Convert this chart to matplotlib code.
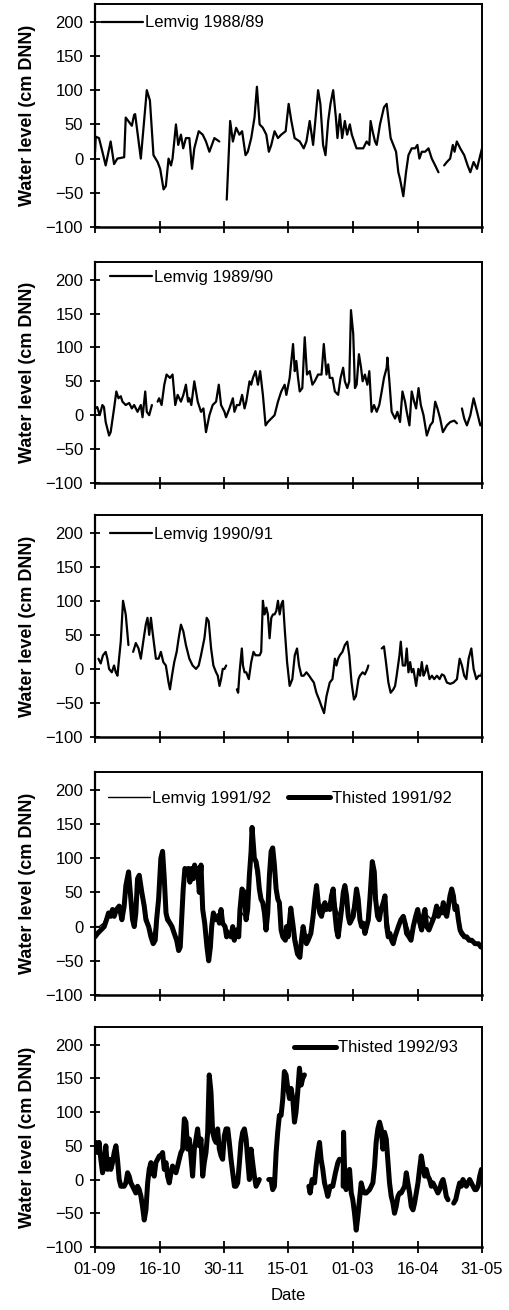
import numpy as np
import matplotlib
matplotlib.use("Agg")
import matplotlib.pyplot as plt

plt.rcParams['font.family'] = ['Liberation Sans', 'DejaVu Sans']

# ---------------- data (day since 01-09, water level cm DNN; None = gap) -------------
tick_labels = ["01-09", "16-10", "30-11", "15-01", "01-03", "16-04", "31-05"]
season_days = 272

lemvig_8889_day = [0, 0.5, 2.8, 5.2, 7.5, 11, 13.4, 15.7, 20.5, 21.6, 25.9, 27.5, 28.2, 32.2, 36.4, 38.6, 41.1, 44,
                   45.8, 48.2, 49.8, 51.7, 53.4, 54.5, 56.9, 58.5, 60.4, 62, 63.9, 66.3, 68.2, 69.8, 72.9, 75.7, 78,
                   80.4, 83.9, 87.4, None,
                   92.6, 95, 96.9, 99.2, 101.5, 103.4, 105.8, 107.4, 109.8, 112.1, 113.8, 115.7, 118, 120.4, 122.2,
                   123.9, 126.2, 128.6, 130.9, 134, 136.1, 138, 140.3, 143.9, 146.7, 148.6, 150.9, 153.3, 156.8,
                   158.4, 160.3, 162, 163.9, 165.5, 167.4, 169.3, 170.4, 172.1, 173.7, 175.6, 177.2, 179.1, 180.5,
                   183.8, 186.2, 188.5, 190.9, 192.8, 193.7, 195.1, 196.8, 198, 200.3, 203.1, 205, 207.8, 209.7,
                   211.6, 213.2, 214.4, 216.7, 218.6, 220.3, 222.6, 225, 226.6, 228, 229.7, 232, 234.4, 236.7,
                   239.1, 241.4, None,
                   245.4, 247.3, 249.6, 251.5, 252.7, 254.3, 256.7, 259.5, 261.9, 263.8, 266.1, 268.5, 269.6, 272]
lemvig_8889_level = [10, 32, 30, 10, -10, 25, -8, 0, 2, 60, 48, 64, 65, 0, 100, 85, 5, -5, -15, -45,
                     -40, 0, -10, 0, 50, 20, 35, 15, 30, 30, -15, 15, 40, 35, 25, 10, 30, 25, None,
                     -60, 55, 25, 45, 35, 40, 5, 10, 30, 60, 105, 50, 45, 35, 10, 20, 40, 30, 35, 40,
                     80, 55, 30, 25, 15, 25, 55, 20, 100, 80, 20, 5, 55, 80, 100, 60, 30, 65, 30, 55,
                     35, 50, 35, 15, 15, 15, 25, 20, 55, 40, 25, 20, 50, 75, 80, 30, 20, 10, -20, -30,
                     -55, -20, 5, 15, 15, 20, 0, 10, 10, 15, 0, -10, -20, None,
                     -10, -5, 0, 20, 10, 25, 15, 5, -10, -20, -5, -15, -5, 15]

lemvig_8990_day = [0, 1.6, 3.3, 5.2, 6.3, 7.5, 9.9, 11, 13.4, 15, 16.5, 18.1, 19.3, 21.6, 24, 25.9, 27.5, 29.9,
                   32.2, 33.4, 35.3, 36.4, 38.1, 40, None,
                   44, 45.1, 46.8, 48.7, 50.3, 52.7, 54.5, 56.4, 58.1, 60.4, 62.1, 63.9, 65.4, 66.3, 67.7, 69.8,
                   72.2, 74.5, 76.2, 78, 80.4, 82.7, 85.1, 87, 88.6, 91, 92.1, 94.5, 96.9, 98, 99.7, 101.6, 103.4,
                   105.1, 106.3, 108.6, 109.8, 111, 112.8, 114.5, 116.1, 118, 119.9, 121.5, 123.9, 126.2, 128.6,
                   130.9, 133.3, 134.5, 136.8, 139.2, 140.4, 141.5, 142.7, 143.9, 145.7, 147.4, 149, 150.9, 152.8,
                   154.4, 156.8, 159.2, 160.8, 162.7, 163.9, 165, 166.9, 168.6, 170.9, 172.6, 174.4, 175.6, 177.3,
                   178.7, 179.9, 181.5, 182.7, 183.9, 185.5, 187, 188.1, 189.7, 191.4, 192.8, 194.4, 196.1, 198,
                   199.8, 201.5, 203.1, 205, 205.5, 206.9, 208.5, 210.9, 212.5, 214.4, 216.1, 217.9, 219.1, 221,
                   222.6, 224.3, 225.7, 227.4, 229, 230.9, 233.2, 235.6, 237.4, 239.1, 240.7, 242.6, 244.5, 247.3,
                   249.7, 252.5, 254.4, None,
                   257.9, 259.5, 261.4, 263.8, 266.1, 268.5, 270.8, 272]
lemvig_8990_level = [10, 12, 0, 15, 12, -10, -30, -25, 10, 35, 25, 28, 20, 15, 18, 10, 15, 5, 15, -3,
                     35, 5, 0, 15, None,
                     20, 25, 15, 45, 60, 55, 60, 15, 30, 20, 30, 45, 20, 25, 15, 50, 20, 5, 10, -25,
                     0, 15, 20, 45, 15, 5, -3, 10, 25, 5, 15, 15, 30, 10, 20, 50, 45, 55, 65, 45,
                     65, 30, -15, -10, -5, 0, 20, 35, 45, 30, 55, 105, 65, 80, 55, 35, 40, 115, 60, 65,
                     45, 50, 60, 60, 105, 60, 75, 55, 55, 35, 30, 55, 70, 50, 40, 50, 155, 120, 40, 45,
                     90, 70, 50, 60, 45, 65, 5, 15, 5, 15, 35, 55, 70, 85, 50, 5, -5, 5, -10, 35,
                     20, 5, -15, 35, 20, 10, 40, 15, 0, -30, -15, -10, 20, 10, -5, -25, -15, -10, -8, -12,
                     None,
                     10, -5, -15, 0, 25, 5, -15, -12]

lemvig_9091_day = [2.4, 4, 5.6, 7.5, 8.7, 9.9, 11.8, 13.4, 14.6, 15.8, 16.9, 18.1, 19.7, 21.6, 23.5, None,
                   26.8, 28.7, 30.6, 32.2, 33.9, 35.7, 36.9, 38.1, 39.3, 40.4, 41.6, 42.8, 44.7, 46.3, 48, 49.8,
                   51.7, 52.7, 54.1, 55.7, 57.4, 58.8, 60.4, 62.1, 63.9, 66.3, 68.6, 71, 72.9, 74.5, 76.9, 78.5,
                   79.9, 81.6, 83.2, 85.1, 86.3, 87.5, 88.6, 89.8, 91, 92.2, None,
                   99.7, 100.6, 101.6, 103.2, 104, 105.1, 106.3, 108.1, 109.8, 111.4, 112.8, 115.7, 116.8, 118,
                   119.2, 120.4, 121.5, 122.7, 123.9, 125.1, 126.2, 127.4, 128.6, 129.8, 131, 132.1, 133.3, 135,
                   136.8, 138.7, 140.4, 142, 143.4, 145.1, 146.7, 148.6, 150.5, 152.1, 153.8, 155.6, 157.5, 159.2,
                   161, 162.7, 165, 166.9, 168.6, 169.7, 170.9, 172.1, 173.9, 175.6, 177.3, 178.7, 180.3, 182,
                   183.4, 185.2, 186.2, 188.1, 189.7, 191.4, 192.1, None,
                   201.5, 203.1, 204.5, 206.2, 207.8, 209.7, 210.9, 212, 214, 214.9, 216.3, 218, 219.1, 220.3,
                   221.5, 222.6, 223.8, 225.7, 227.3, 228.5, 229.7, 230.9, 232, 233.2, 235.1, 236.8, 238.4, 240.3,
                   242.2, 243.8, 245.4, 247.3, 249.7, 252, 254.4, 256.3, 257.9, 259.5, 261, 262.6, 264.5, 266.1,
                   268, 269.7, 271.5, 272]
lemvig_9091_level = [15, 8, 20, 25, 15, 0, -5, 5, -5, -10, 15, 40, 100, 80, 35, None,
                     25, 38, 30, 15, 40, 65, 75, 50, 75, 55, 35, 15, 15, 25, 10, 5, -20, -30, -10, 10,
                     25, 45, 65, 55, 35, 15, 5, 0, 5, 20, 45, 75, 70, 30, 5, -5, -10, -25, -15, 0,
                     0, 5, None,
                     -30, -35, -5, 30, 5, -5, -5, -15, 10, 25, 20, 20, 25, 100, 80, 90, 80, 45, 75, 80,
                     80, 85, 100, 80, 95, 100, 60, 10, -25, -15, 20, 30, 5, -10, -10, -5, -10, -15, -20, -35,
                     -45, -55, -65, -40, -20, -15, 15, 5, 15, 20, 25, 35, 40, 20, -20, -45, -40, -15, -10, -5,
                     -8, 0, 5, None,
                     30, 33, 10, -20, -35, -30, -25, -10, 20, 40, 5, 5, 30, -5, 10, -5, 0, -25, 0, -10,
                     10, -10, -5, 5, -15, -10, -15, -10, -15, -8, -10, -20, -22, -20, -15, 15, 5, -10, -15, 15,
                     30, 0, -15, -10, -10, -5]

lemvig_9192_day = [0, 3, 6, 9, 12, 15, 17, 19, 21.7, 23.6, 26.4, 29.9, 31.1, 34.6, 37.7, 40.9, 44.7, 47.5, 50,
                   52.7, 55.7, 58.8, 61.1, 63.2, 67.9, 70, 72.1, 75.7, 78, 79.9, 83.2, 87.4, 91.4, 95.6, 99.6,
                   103.3, 106.2, 108.5, 110.4, 112, 115.5, 119.1, 120.2, 123.8, 124.9, 128.5, 130.8, 133.8, 137.6,
                   141, 144, 147.5, 151.7, 155.7, 159.2, 162.7, 167.4, 170.9, 175.6, 179.1, 183.8, 187.4, 190.9,
                   194.9, 198.6, 203.8, 207.3, 211, 215, 219, 222.1, 225.4, 228.4, 231.9, 236.6, 240.1, 243.7,
                   247.2, 250.7, 254.2, 257.7, 261.3, 264.8, 269.5, 272]
lemvig_9192_level = [0, 0, 5, 20, 20, 25, 30, 10, 55, 80, 5, 65, 70, 30, 5, -15, 35, 105, 20, 10,
                     -5, -25, 15, 80, 80, 70, 80, 25, -15, -45, 15, 20, 0, -10, -5, 20, 10, 70, 135, 95,
                     50, 15, -5, 105, 110, 35, -10, -15, 25, -15, -40, -10, -15, 55, 15, 25, 55, 15, 55, 10,
                     50, 5, 5, 90, 15, 40, -10, -20, 10, 5, -15, 20, -5, 20, 10, 25, 30, 25, 50, 25,
                     -5, -15, -20, -25, -25]

thisted_9192_day = [0, 1.8, 4.1, 6.5, 8.1, 9.5, 11.1, 12.3, 13.5, 15.1, 17, 18.9, 20.5, 21.7, 23.6, 25.2, 26.4,
                    27.6, 28.7, 29.9, 31.1, 32.9, 34.6, 35.8, 37.7, 39.3, 40.9, 42.3, 43.3, 44.7, 46.3, 47.5, 48.7,
                    49.9, 51, 52.7, 54.1, 55.7, 57.4, 58.8, 59.9, 61.1, 62, 63.2, 64.4, 65.6, 66.7, 67.9, 69.1,
                    70, 71, 72.1, 73.3, 74.5, 75.7, 77.1, 78, 78.7, 79.9, 81.1, 82, 83.2, 84.6, 86.2, 87.4, 88.6,
                    89.7, 91.4, 92.5, 93.9, 95.6, 96.8, 97.9, 99.6, 101, 101.9, 103.3, 105, 106.2, 107.3, 108.5,
                    109.7, 110.4, 112, 113.2, 114.4, 115.5, 116.7, 117.9, 119.1, 120.2, 121.4, 122.6, 123.8,
                    124.9, 126.1, 127.3, 128.5, 129.6, 130.8, 132, 133.8,
                    134.6, 135.7, 137.6, 139.3, 140.4, 142.3, 144, 145.1, 146.3, 147.5, 148.6, 149.8, 151.7,
                    153.3, 154.5, 155.7, 156.9, 158, 159.2, 160.4, 161.6, 162.7, 163.9, 165.1, 166.2, 167.4,
                    168.6, 169.8, 170.9, 172.1, 173.3, 174.5, 175.6, 176.8, 178, 179.1, 180.3, 181.5, 182.7,
                    183.8, 185, 186.2, 187.4, 188.5, 189.7, 190.9, 192.1, 193.2, 194.9, 196.3, 197.2, 198.6,
                    199.8, 201, 202.6, 203.8, 205, 206.1, 207.3, 208.5, 209.6, 210.8, 213.2, 215, 216.7, 217.9,
                    219, 220.7, 222.1, 223.7, 225.4, 226.8, 228.4, 229.6, 230.8, 231.9, 233.1, 234.7, 236.6,
                    238.5, 240.1, 241.3, 242.5, 243.7, 244.8, 246, 247.2, 248.4, 249.5, 250.7, 251.9, 253,
                    254.2, 255.4, 256.6, 257.7, 259.6, 261.3, 262.9, 264.8, 267.1, 269.5, 271.3]
thisted_9192_level = [-15, -10, -5, 0, 10, 20, 15, 25, 15, 25, 30, 10, 30, 60, 80, 40, 10, 0, 20, 70,
                      75, 50, 30, 10, 0, -15, -25, -20, 10, 40, 100, 110, 70, 20, 10, 5, 0, -10, -20, -35,
                      -30, 20, 55, 85, 80, 85, 65, 85, 70, 90, 75, 85, 50, 90, 25, 5, -15, -30, -50, -30,
                      0, 20, 10, 15, 5, 25, 5, 0, -15, -10, -15, 0, -20, -5, -15, 25, 55, 50, 10, 25,
                      75, 110, 145, 100, 95, 80, 55, 40, 35, 20, -5, 20, 75, 110, 115, 90, 55, 40, 35, -5,
                      -15, -20,
                      0, -15, 27, 0, -20, -40, -45, -20, 0, -15, -25, -20, -10, 15, 40, 60, 35, 20, 15, 30,
                      35, 25, 30, 25, 45, 55, 20, -5, -15, 5, 25, 50, 60, 45, 15, 5, 10, 15, 35, 55,
                      40, 10, 0, 5, -10, 0, 10, 40, 95, 80, 40, 15, 10, 25, 35, 45, 0, -15, -10, -20,
                      -25, -15, 0, 10, 15, 5, -10, -15, -20, 0, 15, 25, 5, -5, 15, 25, 0, -5, 5, 15,
                      30, 15, 25, 20, 35, 20, 15, 30, 45, 55, 45, 25, 30, 10, -5, -10, -15, -15, -20, -20,
                      -25, -25, -30]

thisted_9293_day = [0.1, 0.6, 1.8, 2.9, 4.1, 5.3, 6.4, 7.6, 8.8, 10, 11.1, 12.3, 13.5, 14.7, 15.8, 17, 18.2,
                    19.4, 20.5, 21.7, 22.9, 24, 25.2, 26.4, 27.6, 28.7, 29.9, 31.1, 32.3, 33.4, 34.6, 35.8, 37,
                    38.1, 39.3, 40.5, 41.6, 42.8, 44, 45.2, 46.3, 47.5, 48.7, 49.9, 51, 52.2, 53.4, 54.5, 55.7,
                    56.9, 58.1, 59.2, 60.4, 61.6, 62.8, 63.9, 65.1, 66.3, 67.4, 68.6, 69.8, 71, 72.1, 73.3, 74.5,
                    75.7, 76.8, 78, 79.2, 80.3, 81.5, 82.7, 83.9, 85, 86.2, 87.4, 88.6, 89.7, 90.9, 92.1, 93.3,
                    94.4, 95.6, 96.8, 98, 99.1, 100.3, 101.5, 102.6, 103.8, 105, 106.2, 107.3, 108.5, 109.7,
                    110.8, 112, 113.2, 114.4, 115.5, None,
                    122.1, 123.7, 124.9, 126.1, 127.3, 128.4, 129.6, 130.8, 132, 133.1, 134.3, 135.5, 136.7,
                    137.8, 139, 140.2, 141.3, 142.5, 143.7, 144.9, 146, 147.2, None,
                    150.3, 151.2, 152.6, 154.3, 155.4, 156.6, 157.8, 158.9, 160.1, 161.3, 162.5, 163.6, 165.3,
                    167.1, 169, 170.7, 171.8, None,
                    174.4, 174.7, 175.6, 176.5, 177.7, 178.9, 180.1, 181.2, 182.4, 183.6, 184.7, 185.9, 187.1,
                    188.3, 189.4, 190.6, 193, 195.3, 196.5, 197.6, 198.8, 200, 201.2, 202.3, 203.5, 204.7,
                    205.9, 207, 208.2, 209.4, 210.5, 211.7, 212.9, 214.1, 215.2, 216.4, 217.6, 218.8, 219.9,
                    221.1, 222.3, 223.5, 224.6, 225.8, 227, 228.1, 229.3, 230.5, 231.7, 232.8, 234, 235.2,
                    236.4, 237.5, 238.7, 239.9, 241, 242.2, 243.4, 244.6, 245.7, 246.9, 248.1, None,
                    252.1, 253.5, 255.1, 256.3, 257.5, 258.6, 259.8, 261, 262.2, 263.3, 264.5, 265.7, 266.9,
                    268, 269.2, 270.4, 271.6]
thisted_9293_level = [45, 55, 40, 55, 30, 10, 20, 50, 15, 30, 15, 25, 40, 50, 30, 0, -10, -10, -10, -5,
                      10, 5, -5, -10, -15, -20, -10, -15, -25, -40, -60, -45, -5, 15, 25, 10, 5, 25, 30, 35,
                      35, 40, 15, 25, 5, -5, 10, 20, 15, 10, 20, 30, 40, 45, 90, 85, 45, 60, 35, 5,
                      45, 60, 75, 50, 60, 5, 25, 40, 70, 155, 130, 70, 60, 55, 75, 45, 35, 30, 65, 75,
                      75, 55, 30, 10, -10, -10, -5, 25, 55, 70, 75, 60, 30, 0, 45, 25, 5, -10, -5, 0,
                      None,
                      0, 0, -15, -10, 40, 70, 95, 95, 120, 160, 155, 135, 120, 135, 120, 85, 100, 130, 165, 140,
                      150, 155, None,
                      -10, -20, 0, -5, 20, 40, 55, 30, 15, -5, -15, -25, -10, -10, 10, 25, 30, None,
                      -10, 70, 0, -15, 5, 15, -20, -30, -50, -75, -55, -30, -5, -15, -20, -20, -15, -5, 20, 55,
                      75, 85, 75, 45, 70, 60, 25, -5, -25, -35, -50, -40, -25, -20, -20, -15, -10, 10, -5, -20,
                      -40, -45, -35, -20, -5, 15, 35, 20, 5, 15, 5, 0, -10, -5, -10, -15, -20, -15, -5, 0,
                      -10, -25, -30, None,
                      -35, -30, -15, -5, -10, 0, -5, -10, -5, 0, -5, -10, -15, -15, -10, 5, 15]


def arr(values):
    return np.array([np.nan if v is None else v for v in values], dtype=float)


# ---------------- layout ----------------
W, H = 510, 1310
fig = plt.figure(figsize=(W / 100, H / 100), dpi=100)
left_px, right_px = 95, 482
panel_px = [(4, 227), (262, 483), (515, 737), (772, 995), (1027, 1247)]

thin = 1.6
thick = 3.6
fs = 12

panels = [
    [(lemvig_8889_day, lemvig_8889_level, "Lemvig 1988/89", thin)],
    [(lemvig_8990_day, lemvig_8990_level, "Lemvig 1989/90", thin)],
    [(lemvig_9091_day, lemvig_9091_level, "Lemvig 1990/91", thin)],
    [(lemvig_9192_day, lemvig_9192_level, "Lemvig 1991/92", 1.0),
     (thisted_9192_day, thisted_9192_level, "Thisted 1991/92", thick)],
    [(thisted_9293_day, thisted_9293_level, "Thisted 1992/93", thick)],
]
legend_anchor = [(0.016, 0.915), (0.039, 0.93), (0.039, 0.914), (0.034, 0.88), (0.515, 0.905)]

tick_pos = np.linspace(0, season_days, len(tick_labels))

for i, ((top, bot), series) in enumerate(zip(panel_px, panels)):
    ax = fig.add_axes([left_px / W, 1 - bot / H, (right_px - left_px) / W, (bot - top) / H])
    for d, v, lab, lw in series:
        ax.plot(arr(d), arr(v), color="black", lw=lw, label=lab,
                solid_joinstyle="round", solid_capstyle="round")
    ax.set_xlim(0, season_days)
    ax.set_ylim(-100, 226)
    ax.set_yticks(np.arange(-100, 201, 50))
    ax.set_xticks(tick_pos)
    ax.tick_params(axis="y", direction="inout", length=7, width=1.3, labelsize=fs, pad=5)
    ax.tick_params(axis="x", direction="inout", length=9, width=1.3, labelsize=fs, pad=6.5)
    for s in ax.spines.values():
        s.set_linewidth(1.4)
    ax.spines["bottom"].set_linewidth(1.8)
    ax.spines["left"].set_linewidth(1.6)
    if i == len(panels) - 1:
        ax.set_xticklabels(tick_labels)
        ax.set_xlabel("Date", fontsize=fs, labelpad=8)
    else:
        ax.set_xticklabels([])
    ax.set_ylabel("Water level (cm DNN)", fontsize=13, fontweight="bold")
    ax.yaxis.set_label_coords(-0.153, 0.5)
    ax.legend(loc="center left", bbox_to_anchor=legend_anchor[i], frameon=False,
              fontsize=fs, handlelength=2.5, handletextpad=0.15, borderpad=0,
              borderaxespad=0, ncol=len(series), columnspacing=1.0)

fig.savefig("out.png", dpi=100)
